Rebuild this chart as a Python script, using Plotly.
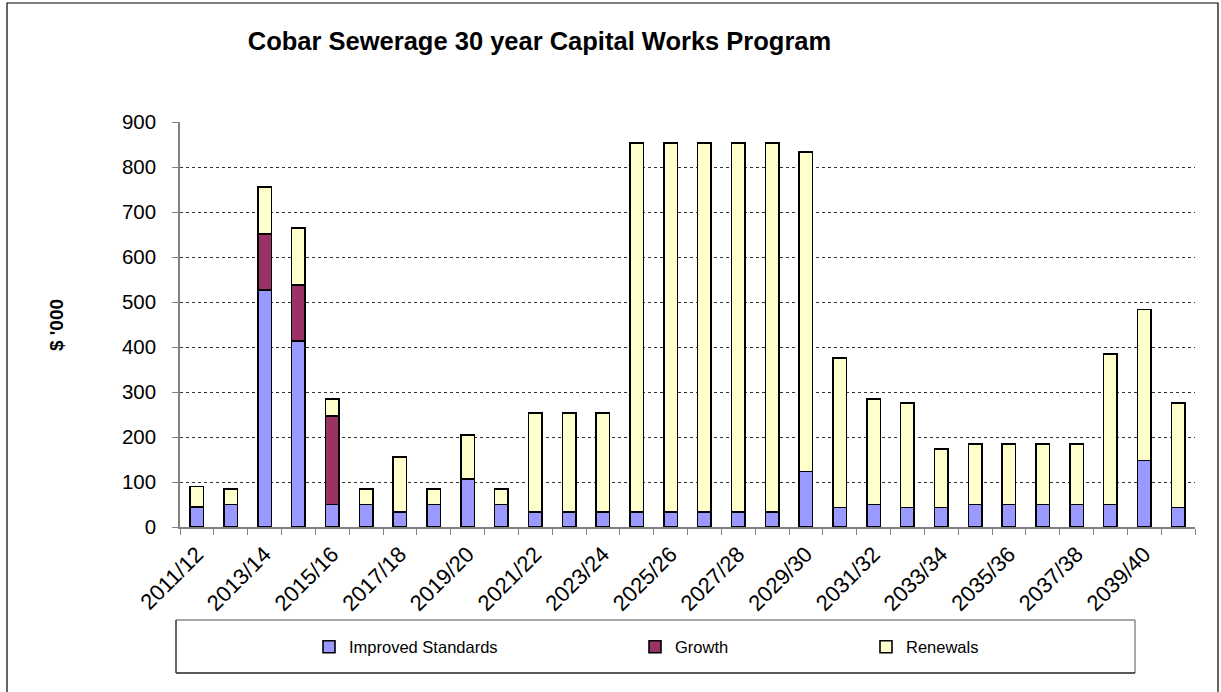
import plotly.graph_objects as go

# ---- data ----
years = [f"{y}/{str(y + 1)[-2:]}" for y in range(2011, 2041)]
tick_labels = [yr if i % 2 == 0 else "" for i, yr in enumerate(years)]

improved_standards = [45, 50, 527, 414, 50, 50, 33, 50, 107, 50,
                      33, 33, 33, 33, 33, 33, 33, 33, 123, 43,
                      50, 43, 43, 50, 50, 50, 50, 50, 148, 43]
growth = [0, 0, 124, 124, 197, 0, 0, 0, 0, 0,
          0, 0, 0, 0, 0, 0, 0, 0, 0, 0,
          0, 0, 0, 0, 0, 0, 0, 0, 0, 0]
renewals = [45, 35, 104, 127, 38, 35, 122, 35, 98, 35,
            220, 220, 220, 821, 821, 821, 821, 821, 711, 332,
            235, 232, 130, 135, 135, 135, 135, 334, 335, 232]

series_names = ["Improved Standards", "Growth", "Renewals"]
series_colors = ["#9999FF", "#993366", "#FFFFCC"]

FONT = "Liberation Sans, Arial, sans-serif"

W, H = 1221, 692
L, R, T, B = 180, 26, 122, 165
PW, PH = W - L - R, H - T - B


def px(x):
    return (x - L) / PW


def py(y):
    return (H - B - y) / PH


fig = go.Figure()
legend_ids = ["legend", "legend2", "legend3"]
for name, vals, col, lg in zip(series_names, [improved_standards, growth, renewals],
                               series_colors, legend_ids):
    fig.add_trace(go.Bar(
        x=years, y=vals, name=name, legend=lg, showlegend=True,
        marker=dict(color=col, line=dict(color="black", width=1.6)),
    ))

leg_common = dict(orientation="h", yanchor="middle", xanchor="left",
                  bgcolor="rgba(0,0,0,0)", borderwidth=0,
                  font=dict(family=FONT, size=16.5, color="black"))
text_starts = [351, 677, 908]

fig.update_layout(
    width=W, height=H,
    showlegend=True,
    margin=dict(l=L, r=R, t=T, b=B),
    paper_bgcolor="white", plot_bgcolor="white",
    barmode="stack", bargap=0.6,
    font=dict(family=FONT, color="black"),
    title=dict(text="<b>Cobar Sewerage 30 year Capital Works Program</b>",
               x=539.5 / W, xref="container", xanchor="center",
               y=1 - 41 / H, yref="container", yanchor="middle",
               font=dict(family=FONT, size=25.5, color="black")),
    legend=dict(x=px(text_starts[0] - 42), y=py(647), visible=True, **leg_common),
    legend2=dict(x=px(text_starts[1] - 42), y=py(647), visible=True, **leg_common),
    legend3=dict(x=px(text_starts[2] - 42), y=py(647), visible=True, **leg_common),
    xaxis=dict(
        type="category", tickmode="array", tickvals=years, ticktext=tick_labels,
        tickson="boundaries", ticks="outside", ticklen=6, tickcolor="#808080",
        tickangle=-45, tickfont=dict(family=FONT, size=22, color="black"),
        ticklabelstandoff=4,
        showline=True, linecolor="#808080", linewidth=1.5,
        showgrid=False,
    ),
    yaxis=dict(
        range=[0, 900], tickmode="linear", tick0=0, dtick=100,
        ticks="outside", ticklen=6, tickcolor="#808080",
        ticklabelstandoff=12,
        tickfont=dict(family=FONT, size=20.5, color="black"),
        showline=True, linecolor="#808080", linewidth=1.5,
        showgrid=True, gridcolor="#333333", gridwidth=1, griddash="dot",
        zeroline=False,
    ),
    annotations=[dict(
        text="<b>$ '000</b>", textangle=-90, xref="paper", yref="paper",
        x=px(56), y=py(325), xanchor="center", yanchor="middle", showarrow=False,
        font=dict(family=FONT, size=19, color="black"),
    )],
    shapes=[
        # outer chart frame
        dict(type="rect", xref="paper", yref="paper",
             x0=px(7), x1=px(1218), y0=py(700), y1=py(3),
             line=dict(color="black", width=1.2), layer="below"),
        # legend box (grey top/right, dark bottom/left)
        dict(type="line", xref="paper", yref="paper", x0=px(176), x1=px(1135),
             y0=py(620), y1=py(620), line=dict(color="#8a8a8a", width=1.5)),
        dict(type="line", xref="paper", yref="paper", x0=px(1135), x1=px(1135),
             y0=py(620), y1=py(673), line=dict(color="#8a8a8a", width=1.5)),
        dict(type="line", xref="paper", yref="paper", x0=px(176), x1=px(1135),
             y0=py(673), y1=py(673), line=dict(color="#222222", width=1.5)),
        dict(type="line", xref="paper", yref="paper", x0=px(176), x1=px(176),
             y0=py(620), y1=py(673), line=dict(color="#333333", width=1.5)),
    ],
)

fig.write_html("out.html", config={"displayModeBar": False},
               post_script="document.body.style.margin='0px';document.body.style.overflow='hidden';")
